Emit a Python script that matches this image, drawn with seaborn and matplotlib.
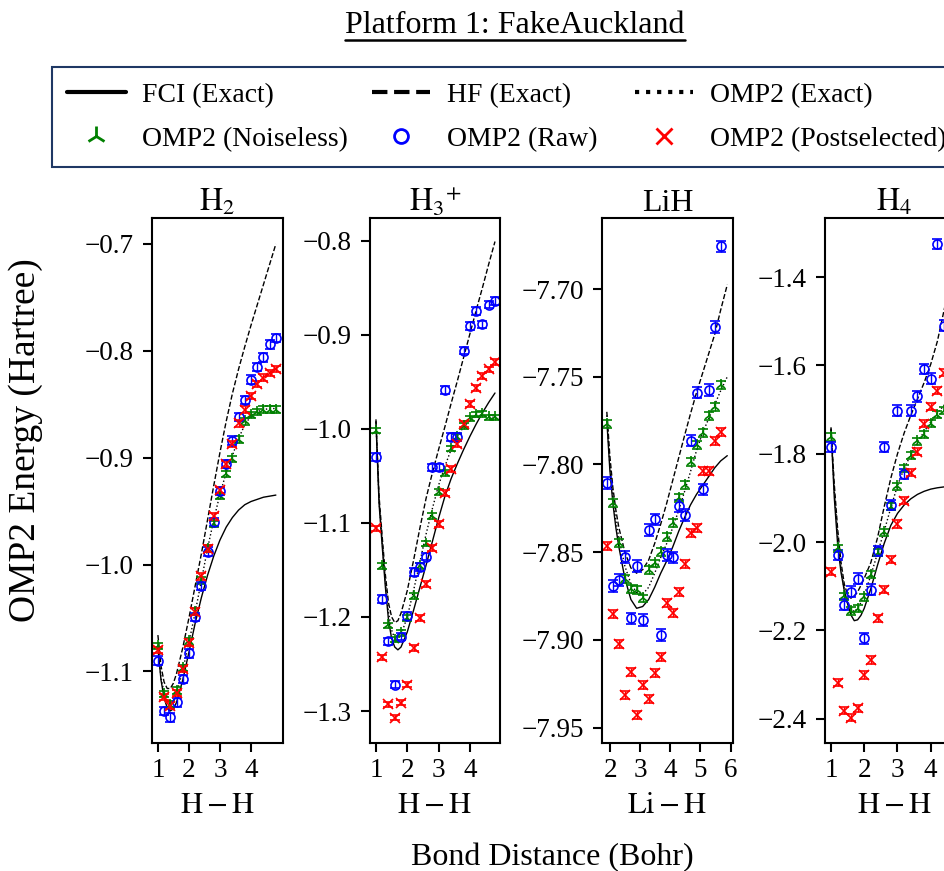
import matplotlib
matplotlib.use("Agg")
import matplotlib.pyplot as plt
from matplotlib.lines import Line2D
import seaborn as sns

# ---------------- data ----------------
# H2
x_pts_h2 = [1.0, 1.2, 1.4, 1.6, 1.8, 2.0, 2.2, 2.4, 2.6, 2.8, 3.0, 3.2, 3.4, 3.6, 3.8, 4.0, 4.2, 4.4, 4.6, 4.8]
noiseless_h2 = [-1.076, -1.121, -1.131, -1.118, -1.097, -1.072, -1.044, -1.015, -0.985, -0.962, -0.936, -0.915, -0.901, -0.883, -0.866, -0.860, -0.857, -0.855, -0.855, -0.855]
raw_h2 = [-1.090, -1.137, -1.143, -1.129, -1.107, -1.083, -1.049, -1.020, -0.988, -0.960, -0.931, -0.906, -0.884, -0.862, -0.846, -0.827, -0.815, -0.806, -0.794, -0.788]
post_h2 = [-1.080, -1.124, -1.132, -1.120, -1.098, -1.073, -1.044, -1.011, -0.985, -0.955, -0.930, -0.906, -0.887, -0.868, -0.855, -0.842, -0.831, -0.825, -0.821, -0.817]
x_line_h2 = [1.0, 1.1, 1.2, 1.3, 1.4, 1.5, 1.6, 1.8, 2.0, 2.2, 2.4, 2.6, 2.8, 3.0, 3.2, 3.4, 3.6, 3.8, 4.0, 4.2, 4.4, 4.6, 4.8]
fci_h2 = [-1.078, -1.108, -1.125, -1.134, -1.137, -1.135, -1.129, -1.108, -1.082, -1.055, -1.031, -1.010, -0.992, -0.977, -0.965, -0.956, -0.949, -0.944, -0.941, -0.939, -0.937, -0.936, -0.935]
hf_h2 = [-1.066, -1.095, -1.110, -1.116, -1.116, -1.111, -1.102, -1.078, -1.050, -1.020, -0.990, -0.958, -0.926, -0.895, -0.866, -0.840, -0.817, -0.796, -0.776, -0.757, -0.738, -0.719, -0.700]
omp2_h2 = [-1.076, -1.106, -1.120, -1.128, -1.131, -1.128, -1.121, -1.099, -1.073, -1.045, -1.015, -0.985, -0.958, -0.934, -0.914, -0.898, -0.882, -0.869, -0.861, -0.857, -0.855, -0.854, -0.854]

# H3+
x_pts_h3 = [1.0, 1.2, 1.4, 1.6, 1.8, 2.0, 2.2, 2.4, 2.6, 2.8, 3.0, 3.2, 3.4, 3.6, 3.8, 4.0, 4.2, 4.4, 4.6, 4.8]
noiseless_h3 = [-1.002, -1.146, -1.209, -1.224, -1.217, -1.201, -1.178, -1.146, -1.122, -1.093, -1.067, -1.047, -1.021, -1.009, -0.997, -0.989, -0.985, -0.984, -0.988, -0.988]
raw_h3 = [-1.030, -1.181, -1.226, -1.272, -1.221, -1.199, -1.152, -1.147, -1.136, -1.041, -1.041, -0.959, -1.009, -1.009, -0.917, -0.891, -0.875, -0.889, -0.868, -0.864]
post_h3 = [-1.106, -1.243, -1.293, -1.307, -1.291, -1.272, -1.233, -1.201, -1.165, -1.127, -1.101, -1.068, -1.043, -1.016, -0.995, -0.974, -0.957, -0.944, -0.937, -0.929]
x_line_h3 = [1.0, 1.1, 1.2, 1.3, 1.4, 1.5, 1.6, 1.7, 1.8, 2.0, 2.2, 2.4, 2.6, 2.8, 3.0, 3.2, 3.4, 3.6, 3.8, 4.0, 4.2, 4.4, 4.6, 4.8]
fci_h3 = [-0.993, -1.080, -1.125, -1.168, -1.203, -1.223, -1.232, -1.235, -1.232, -1.216, -1.193, -1.169, -1.145, -1.120, -1.095, -1.072, -1.053, -1.037, -1.022, -1.008, -0.995, -0.983, -0.972, -0.962]
hf_h3 = [-0.990, -1.072, -1.115, -1.155, -1.185, -1.200, -1.206, -1.204, -1.196, -1.172, -1.140, -1.106, -1.074, -1.047, -1.022, -0.998, -0.973, -0.949, -0.924, -0.899, -0.874, -0.850, -0.825, -0.801]
omp2_h3 = [-0.992, -1.077, -1.120, -1.162, -1.195, -1.214, -1.223, -1.224, -1.219, -1.200, -1.172, -1.142, -1.112, -1.085, -1.060, -1.040, -1.022, -1.008, -0.998, -0.991, -0.987, -0.986, -0.987, -0.988]

# LiH
x_pts_lih = [1.89, 2.09, 2.29, 2.49, 2.69, 2.88, 3.08, 3.28, 3.48, 3.68, 3.88, 4.08, 4.28, 4.48, 4.67, 4.87, 5.07, 5.27, 5.47, 5.67]
noiseless_lih = [-7.7769, -7.8218, -7.8446, -7.8655, -7.8712, -7.8716, -7.8764, -7.8602, -7.8564, -7.8498, -7.8412, -7.8332, -7.8193, -7.8117, -7.7984, -7.7889, -7.7822, -7.7723, -7.7674, -7.7546]
raw_lih = [-7.8107, -7.8693, -7.8659, -7.8526, -7.8878, -7.8580, -7.8888, -7.8374, -7.8313, -7.8973, -7.8517, -7.8530, -7.8237, -7.8288, -7.7864, -7.7590, -7.8142, -7.7575, -7.7217, -7.6757]
post_lih = [-7.8465, -7.8855, -7.9026, -7.9316, -7.9182, -7.9426, -7.9259, -7.9335, -7.9188, -7.9097, -7.8789, -7.8846, -7.8726, -7.8570, -7.8389, -7.8364, -7.8035, -7.8035, -7.7864, -7.7813]
x_line_lih = [1.89, 1.99, 2.09, 2.19, 2.29, 2.49, 2.69, 2.88, 3.08, 3.28, 3.48, 3.68, 3.88, 4.08, 4.28, 4.48, 4.67, 4.87, 5.07, 5.27, 5.47, 5.67, 5.89]
fci_lih = [-7.775, -7.803, -7.822, -7.836, -7.847, -7.865, -7.877, -7.882, -7.881, -7.877, -7.870, -7.862, -7.855, -7.847, -7.838, -7.830, -7.823, -7.817, -7.812, -7.807, -7.802, -7.798, -7.795]
hf_lih = [-7.770, -7.795, -7.813, -7.826, -7.836, -7.850, -7.859, -7.862, -7.860, -7.8545, -7.845, -7.834, -7.822, -7.809, -7.796, -7.783, -7.771, -7.759, -7.748, -7.737, -7.726, -7.712, -7.6975]
omp2_lih = [-7.772, -7.800, -7.818, -7.832, -7.842, -7.858, -7.868, -7.873, -7.874, -7.870, -7.862, -7.853, -7.845, -7.836, -7.826, -7.815, -7.804, -7.792, -7.782, -7.774, -7.766, -7.758, -7.750]

# H4
x_pts_h4 = [1.0, 1.2, 1.4, 1.6, 1.8, 2.0, 2.2, 2.4, 2.6, 2.8, 3.0, 3.2, 3.4, 3.6, 3.8, 4.0, 4.2, 4.4]
noiseless_h4 = [-1.762, -2.014, -2.123, -2.156, -2.151, -2.125, -2.074, -2.024, -1.978, -1.920, -1.874, -1.834, -1.804, -1.772, -1.757, -1.732, -1.712, -1.702]
raw_h4 = [-1.785, -2.029, -2.142, -2.112, -2.083, -2.218, -2.108, -2.020, -1.785, -1.916, -1.702, -1.846, -1.702, -1.670, -1.608, -1.630, -1.325, -1.510]
post_h4 = [-2.067, -2.318, -2.382, -2.398, -2.376, -2.301, -2.267, -2.172, -2.108, -2.040, -1.959, -1.906, -1.843, -1.795, -1.732, -1.693, -1.657, -1.616]
x_line_h4 = [1.0, 1.1, 1.2, 1.3, 1.4, 1.5, 1.6, 1.7, 1.8, 1.9, 2.0, 2.2, 2.4, 2.6, 2.8, 3.0, 3.2, 3.4, 3.6, 3.8, 4.0, 4.2, 4.4, 4.6, 4.8]
fci_h4 = [-1.744, -1.900, -2.005, -2.068, -2.110, -2.140, -2.165, -2.178, -2.176, -2.166, -2.150, -2.105, -2.052, -2.003, -1.962, -1.935, -1.916, -1.902, -1.892, -1.885, -1.880, -1.877, -1.875, -1.873, -1.872]
hf_h4 = [-1.740, -1.870, -1.970, -2.045, -2.095, -2.120, -2.127, -2.122, -2.113, -2.098, -2.082, -2.046, -1.990, -1.920, -1.855, -1.800, -1.753, -1.713, -1.676, -1.639, -1.597, -1.545, -1.475, -1.405, -1.340]
omp2_h4 = [-1.745, -1.885, -1.985, -2.060, -2.108, -2.138, -2.153, -2.157, -2.150, -2.137, -2.120, -2.075, -2.025, -1.975, -1.922, -1.872, -1.833, -1.802, -1.774, -1.750, -1.728, -1.708, -1.690, -1.675, -1.662]

# error-bar half widths per panel (noiseless, raw, postselected)
err_h2 = [0.003, 0.004, 0.003]
err_h3 = [0.003, 0.004, 0.003]
err_lih = [0.0022, 0.0033, 0.0023]
err_h4 = [0.008, 0.012, 0.008]

titles = [r"$\mathrm{H}_2$", r"$\mathrm{H}_3{}^{+}$", "LiH", r"$\mathrm{H}_4$"]
xlabels = [r"$\mathrm{H}-\mathrm{H}$", r"$\mathrm{H}-\mathrm{H}$", r"$\mathrm{Li}-\mathrm{H}$", r"$\mathrm{H}-\mathrm{H}$"]
yticks_h2 = [-1.1, -1.0, -0.9, -0.8, -0.7]
yticks_h3 = [-1.3, -1.2, -1.1, -1.0, -0.9, -0.8]
yticks_lih = [-7.95, -7.90, -7.85, -7.80, -7.75, -7.70]
yticks_h4 = [-2.4, -2.2, -2.0, -1.8, -1.6, -1.4]
xticks_h = [1, 2, 3, 4]
xticks_lih = [2, 3, 4, 5, 6]

legend_labels = ["FCI (Exact)", "HF (Exact)", "OMP2 (Exact)",
                 "OMP2 (Noiseless)", "OMP2 (Raw)", "OMP2 (Postselected)"]

# ---------------- style ----------------
sns.set_theme(style="ticks", rc={
    "axes.edgecolor": "black", "axes.linewidth": 1.5,
    "xtick.color": "black", "ytick.color": "black",
    "text.color": "black", "axes.labelcolor": "black",
    "xtick.direction": "out", "ytick.direction": "out",
})
plt.rcParams["font.family"] = ["Liberation Serif", "DejaVu Serif"]
plt.rcParams["mathtext.fontset"] = "stix"
plt.rcParams["axes.unicode_minus"] = True

W, H = 945, 871
fig = plt.figure(figsize=(W / 100, H / 100), dpi=100)


def px_axes(l, t, r, b):
    return fig.add_axes([l / W, 1 - b / H, (r - l) / W, (b - t) / H])


panels = [
    dict(box=(152, 218, 283, 743), xlim=(0.81, 5.03), ylim=(-1.167, -0.6757), yticks=yticks_h2, xticks=xticks_h,
         xp=x_pts_h2, g=noiseless_h2, b=raw_h2, r=post_h2, err=err_h2,
         xl=x_line_h2, fci=fci_h2, hf=hf_h2, omp=omp2_h2),
    dict(box=(370, 218, 500, 743), xlim=(0.81, 4.96), ylim=(-1.334, -0.776), yticks=yticks_h3, xticks=xticks_h,
         xp=x_pts_h3, g=noiseless_h3, b=raw_h3, r=post_h3, err=err_h3,
         xl=x_line_h3, fci=fci_h3, hf=hf_h3, omp=omp2_h3),
    dict(box=(602, 218, 733, 743), xlim=(1.73, 6.08), ylim=(-7.9588, -7.6595), yticks=yticks_lih, xticks=xticks_lih,
         xp=x_pts_lih, g=noiseless_lih, b=raw_lih, r=post_lih, err=err_lih,
         xl=x_line_lih, fci=fci_lih, hf=hf_lih, omp=omp2_lih),
    dict(box=(825, 218, 964, 743), xlim=(0.82, 5.0), ylim=(-2.455, -1.266), yticks=yticks_h4, xticks=xticks_h,
         xp=x_pts_h4, g=noiseless_h4, b=raw_h4, r=post_h4, err=err_h4,
         xl=x_line_h4, fci=fci_h4, hf=hf_h4, omp=omp2_h4),
]

TICK_FS = 19.5
for i, p in enumerate(panels):
    ax = px_axes(*p["box"])
    sns.lineplot(x=p["xl"], y=p["fci"], ax=ax, color="black", lw=1.0, linestyle="-", sort=False, estimator=None)
    sns.lineplot(x=p["xl"], y=p["hf"], ax=ax, color="black", lw=1.0, linestyle="--", sort=False, estimator=None)
    sns.lineplot(x=p["xl"], y=p["omp"], ax=ax, color="black", lw=1.0, linestyle=":", sort=False, estimator=None)
    eg, eb, er = p["err"]
    ax.errorbar(p["xp"], p["g"], yerr=eg, fmt="2", color="green", ms=8, mew=1.2,
                elinewidth=1.0, capsize=3.5, capthick=1.0)
    ax.errorbar(p["xp"], p["b"], yerr=eb, fmt="o", mfc="none", mec="blue", color="blue", ms=6.5, mew=1.2,
                elinewidth=1.0, capsize=3.5, capthick=1.0)
    ax.errorbar(p["xp"], p["r"], yerr=er, fmt="x", color="red", ms=6.5, mew=1.2,
                elinewidth=1.0, capsize=3.5, capthick=1.0)
    ax.set_xlim(*p["xlim"])
    ax.set_ylim(*p["ylim"])
    ax.set_xticks(p["xticks"])
    ax.set_yticks(p["yticks"])
    for s in ax.spines.values():
        s.set_visible(True)
        s.set_linewidth(1.5)
        s.set_color("black")
    ax.tick_params(axis="both", length=6.5, width=1.5, labelsize=TICK_FS, top=False, right=False)
    ax.tick_params(axis="y", pad=6.5)
    ax.tick_params(axis="x", pad=4)
    ax.set_title(titles[i], fontsize=23, pad=3)
    ax.set_xlabel(xlabels[i], fontsize=22, labelpad=6)
    ax.set_ylabel("")
    ax.grid(False)
    if ax.get_legend() is not None:
        ax.get_legend().remove()

# legend (column-major order so rows read: exact lines / measured series)
handles = [
    Line2D([], [], color="black", lw=3, ls="-"),
    Line2D([], [], color="green", marker="2", ls="none", ms=14, mew=2),
    Line2D([], [], color="black", lw=3, ls="--"),
    Line2D([], [], color="blue", marker="o", mfc="none", ls="none", ms=10, mew=2),
    Line2D([], [], color="black", lw=3, ls=":"),
    Line2D([], [], color="red", marker="x", ls="none", ms=11, mew=2),
]
labels = [legend_labels[0], legend_labels[3], legend_labels[1],
          legend_labels[4] + "  ", legend_labels[2], legend_labels[5]]
leg = fig.legend(handles, labels, loc="upper left", bbox_to_anchor=(52 / W, 1 - 67 / H),
                 ncol=3, fontsize=20, frameon=True, fancybox=False, framealpha=1,
                 edgecolor="#1f3864", handlelength=2.1, handletextpad=0.6, columnspacing=0.85,
                 labelspacing=0.68, borderpad=0.55, borderaxespad=0)
leg.get_frame().set_linewidth(1.5)

# titles and super labels
title = fig.text(515 / W, 1 - 33 / H, "Platform 1: FakeAuckland", ha="center", va="baseline", fontsize=23)
fig.text(552 / W, 1 - 865 / H, "Bond Distance (Bohr)", ha="center", va="baseline", fontsize=23)
fig.text(26 / W, 1 - 440 / H, "OMP2 Energy (Hartree)", ha="center", va="center", rotation=90, fontsize=27)

fig.canvas.draw()
bb = title.get_window_extent()
y_ul = 1 - 40 / H
fig.add_artist(Line2D([bb.x0 / W, bb.x1 / W], [y_ul, y_ul], transform=fig.transFigure, color="black", lw=1.8))

fig.savefig("out.png", dpi=100)
